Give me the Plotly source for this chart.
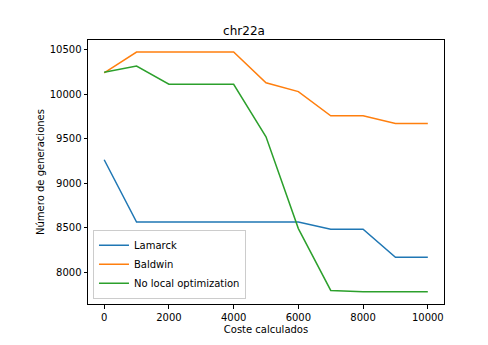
import plotly.graph_objects as go

x = [0, 1000, 2000, 3000, 4000, 5000, 6000, 7000, 8000, 9000, 10000]
lamarck = [9265, 8565, 8565, 8565, 8565, 8565, 8565, 8485, 8485, 8170, 8170]
baldwin = [10240, 10475, 10475, 10475, 10475, 10130, 10030, 9758, 9758, 9672, 9672]
nolocal = [10248, 10318, 10113, 10113, 10113, 9522, 8492, 7797, 7782, 7782, 7782]

names = ["Lamarck", "Baldwin", "No local optimization"]
colors = ["#1f77b4", "#ff7f0e", "#2ca02c"]

fig = go.Figure()
for name, ys, c in zip(names, [lamarck, baldwin, nolocal], colors):
    fig.add_trace(go.Scatter(x=x, y=ys, mode="lines", name=name,
                             line=dict(color=c, width=1.5)))

font = dict(family="DejaVu Sans", size=10, color="black")
fig.update_layout(
    width=488, height=345,
    margin=dict(l=88, r=44, t=40, b=41),
    paper_bgcolor="white", plot_bgcolor="white",
    font=font,
    title=dict(text="chr22a", x=0.5, xanchor="center", y=1 - 31 / 345, yanchor="middle",
               font=dict(family="DejaVu Sans", size=12, color="black")),
    showlegend=True,
    legend=dict(x=0.014, y=0.02, xanchor="left", yanchor="bottom",
                bgcolor="rgba(255,255,255,0.8)", bordercolor="#cccccc", borderwidth=1,
                font=dict(family="DejaVu Sans", size=10, color="black"),
                itemwidth=30, tracegroupgap=0),
)
fig.update_xaxes(range=[-500, 10500], tickvals=[0, 2000, 4000, 6000, 8000, 10000],
                 ticktext=["0", "2000", "4000", "6000", "8000", "10000"],
                 showgrid=False, zeroline=False, showline=True, linecolor="black",
                 linewidth=1, mirror=True, ticks="outside", ticklen=3.5, tickcolor="black",
                 title=dict(text="Coste calculados", standoff=4, font=font))
fig.update_yaxes(range=[7645, 10610], tickvals=[8000, 8500, 9000, 9500, 10000, 10500],
                 ticktext=["8000", "8500", "9000", "9500", "10000", "10500"],
                 showgrid=False, zeroline=False, showline=True, linecolor="black",
                 linewidth=1, mirror=True, ticks="outside", ticklen=3.5, tickcolor="black",
                 title=dict(text="Número de generaciones", standoff=3, font=font))

fig.write_html("out.html")
